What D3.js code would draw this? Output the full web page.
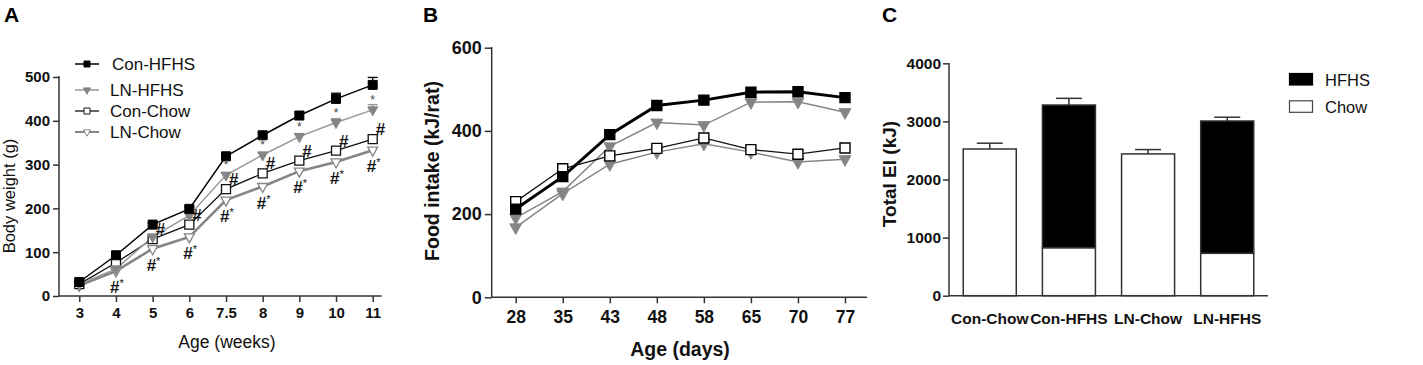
<!DOCTYPE html>
<html><head><meta charset="utf-8">
<script src="https://cdn.jsdelivr.net/npm/d3@7"></script>
<style>
body{margin:0;background:#fff}
svg{display:block;font-family:"Liberation Sans",Arial,sans-serif}
</style>
</head><body>
<svg id="chart" width="1423" height="365"></svg>
<script>
// ---------- Panel A data ----------
const weeks = ["3","4","5","6","7.5","8","9","10","11"];
const conHFHS = [32,93,163,199,319,367,412,450,482];
const conHFHSErr = [3,4,4,5,6,7,9,13,17];
const lnHFHS = [27,62,135,184,276,322,364,396,425];
const lnHFHSErr = [2,3,4,4,5,6,7,9,12];
const conChow = [27,76,130,163,244,280,309,332,358];
const lnChow = [24,57,108,135,219,250,285,306,333];
const hashStarWeeks = ["4","5","6","7.5","8","9","10","11"];
const hashWeeks = ["5","6","7.5","8","9","10","11"];
const starWeeks = ["7.5","8","9","10","11"];
const weightTicks = [0,100,200,300,400,500];
const seriesNamesA = ["Con-HFHS","LN-HFHS","Con-Chow","LN-Chow"];

// ---------- Panel B data ----------
const days = ["28","35","43","48","58","65","70","77"];
const fiConHFHS = [212,290,391,461,474,493,494,480];
const fiLnHFHS = [191,254,363,420,414,469,470,445];
const fiConChow = [230,309,340,358,383,355,344,359];
const fiLnChow = [168,249,320,349,369,349,325,332];
const intakeTicks = [0,200,400,600];

// ---------- Panel C data ----------
const groups = ["Con-Chow","Con-HFHS","LN-Chow","LN-HFHS"];
const eiChow = [2525,826,2440,730];
const eiHFHS = [0,2456,0,2277];
const eiErr = [100,115,75,65];
const eiTicks = [0,1000,2000,3000,4000];
const legendC = ["HFHS","Chow"];

const svg = d3.select("#chart");
const GRAY = "#858585", AX = "#333";

function triDown(w){ const h=w*0.9; return `M${-w/2},${-h/3}L${w/2},${-h/3}L0,${2*h/3}Z`; }
function square(w){ return `M${-w/2},${-w/2}h${w}v${w}h${-w}Z`; }

function styleAxis(g, fs, bold){
  g.selectAll(".domain").remove();
  g.selectAll(".tick line").attr("stroke",AX).attr("stroke-width",1.5);
  g.selectAll(".tick text").attr("fill","#111").attr("font-size",fs)
    .attr("font-weight",bold?"bold":"normal").attr("font-family","'Liberation Sans',Arial,sans-serif");
}

// ================= Panel A =================
{
  const x = d3.scalePoint().domain(weeks).range([79.3,372.7]);
  const y = d3.scaleLinear().domain([0,500]).range([296,77]);
  const g = svg.append("g");
  g.append("text").attr("x",4).attr("y",22).attr("font-size",21).attr("font-weight","bold").text("A");

  const gx = g.append("g").attr("transform","translate(0,296)").call(d3.axisBottom(x).tickSize(6).tickPadding(5));
  styleAxis(gx,15,true);
  const gy = g.append("g").attr("transform","translate(59,0)").call(d3.axisLeft(y).tickValues(weightTicks).tickFormat(d3.format("d")).tickSize(6).tickPadding(3));
  styleAxis(gy,15,true);
  g.append("line").attr("x1",59).attr("x2",381.7).attr("y1",296).attr("y2",296).attr("stroke",AX).attr("stroke-width",1.5);
  g.append("line").attr("x1",59).attr("x2",59).attr("y1",296).attr("y2",76).attr("stroke",AX).attr("stroke-width",1.5);

  g.append("text").attr("x",227).attr("y",348).attr("text-anchor","middle").attr("font-size",17.5).attr("fill","#111").text("Age (weeks)");
  g.append("text").attr("transform","translate(15,196) rotate(-90)").attr("text-anchor","middle").attr("font-size",16.5).attr("fill","#111").text("Body weight  (g)");

  const series = [
    {name:seriesNamesA[0], v:conHFHS, err:conHFHSErr, color:"#000", lw:1.5, mk:"sq", fill:"#000", ms:9},
    {name:seriesNamesA[1], v:lnHFHS, err:lnHFHSErr, color:"#999", lw:1.5, mk:"tri", fill:GRAY, ms:10},
    {name:seriesNamesA[2], v:conChow, err:null, color:"#111", lw:1.3, mk:"sq", fill:"#fff", ms:9},
    {name:seriesNamesA[3], v:lnChow, err:null, color:GRAY, lw:2.6, mk:"tri", fill:"#fff", ms:10}
  ];
  const line = d3.line().x((d,i)=>x(weeks[i])).y(d=>y(d));
  [3,2,1,0].forEach(k=>{
    const s=series[k];
    g.append("path").attr("d",line(s.v)).attr("fill","none").attr("stroke",s.color).attr("stroke-width",s.lw);
  });
  [3,2,1,0].forEach(k=>{
    const s=series[k];
    if(s.err){
      s.v.forEach((v,i)=>{
        const cx=x(weeks[i]);
        g.append("line").attr("x1",cx).attr("x2",cx).attr("y1",y(v)).attr("y2",y(v+s.err[i])).attr("stroke",s.color).attr("stroke-width",1.3);
        g.append("line").attr("x1",cx-5).attr("x2",cx+5).attr("y1",y(v+s.err[i])).attr("y2",y(v+s.err[i])).attr("stroke",s.color).attr("stroke-width",1.3);
      });
    }
    s.v.forEach((v,i)=>{
      g.append("path").attr("transform",`translate(${x(weeks[i])},${y(v)})`)
        .attr("d", s.mk==="sq"?square(s.ms):triDown(s.ms))
        .attr("fill",s.fill).attr("stroke",s.mk==="sq"?s.color:GRAY).attr("stroke-width",s.fill==="#fff"?1.3:1);
    });
  });

  // annotations
  hashStarWeeks.forEach(w=>{
    const i=weeks.indexOf(w);
    const t=g.append("text").attr("x",x(w)-6).attr("y",y(lnChow[i])+22).attr("font-size",17).attr("font-weight","bold").attr("fill","#111");
    t.append("tspan").text("#");
    t.append("tspan").attr("font-size",11).attr("font-weight","normal").attr("dy",-6).text("*");
  });
  hashWeeks.forEach(w=>{
    const i=weeks.indexOf(w);
    g.append("text").attr("x",x(w)+3).attr("y",y(conChow[i])-4).attr("font-size",17).attr("font-weight","bold").attr("fill","#111").text("#");
  });
  starWeeks.forEach(w=>{
    const i=weeks.indexOf(w);
    g.append("text").attr("x",x(w)).attr("y",y(lnHFHS[i])-6).attr("text-anchor","middle").attr("font-size",12).attr("fill","#444").text("*");
  });

  // legend
  const rowsY=[64,90,111,132];
  series.forEach((s,k)=>{
    const ly=rowsY[k];
    g.append("line").attr("x1",75).attr("x2",99).attr("y1",ly).attr("y2",ly).attr("stroke",s.color).attr("stroke-width",Math.min(s.lw,2));
    g.append("path").attr("transform",`translate(87,${ly})`).attr("d",s.mk==="sq"?square(6):triDown(7))
      .attr("fill",s.fill).attr("stroke",s.mk==="sq"?s.color:GRAY).attr("stroke-width",1);
    g.append("text").attr("x",k===0?112:110).attr("y",ly+6).attr("font-size",17).attr("fill","#111").text(s.name);
  });
}

// ================= Panel B =================
{
  const x = d3.scalePoint().domain(days).range([515.7,845]);
  const y = d3.scaleLinear().domain([0,600]).range([297.3,47.7]);
  const g = svg.append("g");
  g.append("text").attr("x",423).attr("y",22).attr("font-size",21).attr("font-weight","bold").text("B");
  const gx = g.append("g").attr("transform","translate(0,297.3)").call(d3.axisBottom(x).tickSize(6).tickPadding(7));
  styleAxis(gx,17.5,true);
  const gy = g.append("g").attr("transform","translate(491.7,0)").call(d3.axisLeft(y).tickValues(intakeTicks).tickFormat(d3.format("d")).tickSize(7).tickPadding(3));
  styleAxis(gy,18,true);
  g.append("line").attr("x1",491.7).attr("x2",867).attr("y1",297.3).attr("y2",297.3).attr("stroke",AX).attr("stroke-width",1.5);
  g.append("line").attr("x1",491.7).attr("x2",491.7).attr("y1",297.3).attr("y2",47).attr("stroke",AX).attr("stroke-width",1.5);

  g.append("text").attr("x",680).attr("y",356).attr("text-anchor","middle").attr("font-size",19.5).attr("font-weight","bold").attr("fill","#111").text("Age  (days)");
  g.append("text").attr("transform","translate(439,171) rotate(-90)").attr("text-anchor","middle").attr("font-size",19.5).attr("font-weight","bold").attr("fill","#111").text("Food intake  (kJ/rat)");

  const series = [
    {v:fiLnChow, color:GRAY, lw:1.5, mk:"tri", fill:GRAY},
    {v:fiLnHFHS, color:GRAY, lw:1.5, mk:"tri", fill:GRAY},
    {v:fiConChow, color:"#111", lw:1.3, mk:"sq", fill:"#fff"},
    {v:fiConHFHS, color:"#000", lw:3, mk:"sq", fill:"#000"}
  ];
  const line = d3.line().x((d,i)=>x(days[i])).y(d=>y(d));
  series.forEach(s=>{
    g.append("path").attr("d",line(s.v)).attr("fill","none").attr("stroke",s.color).attr("stroke-width",s.lw);
  });
  series.forEach(s=>{
    s.v.forEach((v,i)=>{
      g.append("path").attr("transform",`translate(${x(days[i])},${y(v)})`)
        .attr("d", s.mk==="sq"?square(10):triDown(12))
        .attr("fill",s.fill).attr("stroke",s.mk==="sq"?"#000":GRAY).attr("stroke-width",s.mk==="sq"?1.4:0.8);
    });
  });
}

// ================= Panel C =================
{
  const x = d3.scaleBand().domain(groups).range([949,1268]).paddingInner(0.33).paddingOuter(0.18);
  const y = d3.scaleLinear().domain([0,4000]).range([295.7,63.3]);
  const g = svg.append("g");
  g.append("text").attr("x",882).attr("y",22).attr("font-size",21).attr("font-weight","bold").text("C");

  const gy = g.append("g").attr("transform","translate(949,0)").call(d3.axisLeft(y).tickValues(eiTicks).tickFormat(d3.format("d")).tickSize(6).tickPadding(2));
  styleAxis(gy,15.5,true);
  const gx = g.append("g").attr("transform","translate(0,295.7)").call(d3.axisBottom(x).tickSize(0).tickPadding(17));
  styleAxis(gx,15.5,true);

  g.append("text").attr("transform","translate(896,174) rotate(-90)").attr("text-anchor","middle").attr("font-size",19).attr("font-weight","bold").attr("fill","#111").text("Total  EI (kJ)");

  groups.forEach((grp,i)=>{
    const bx=x(grp), bw=x.bandwidth();
    g.append("rect").attr("x",bx).attr("width",bw).attr("y",y(eiChow[i])).attr("height",y(0)-y(eiChow[i]))
      .attr("fill","#fff").attr("stroke","#333").attr("stroke-width",1.5);
    if(eiHFHS[i]>0){
      g.append("rect").attr("x",bx).attr("width",bw).attr("y",y(eiChow[i]+eiHFHS[i])).attr("height",y(eiChow[i])-y(eiChow[i]+eiHFHS[i]))
        .attr("fill","#000").attr("stroke","#333").attr("stroke-width",1.5);
    }
    const tot=eiChow[i]+eiHFHS[i], cx=bx+bw/2;
    g.append("line").attr("x1",cx).attr("x2",cx).attr("y1",y(tot)).attr("y2",y(tot+eiErr[i])).attr("stroke","#333").attr("stroke-width",1.5);
    g.append("line").attr("x1",cx-13).attr("x2",cx+13).attr("y1",y(tot+eiErr[i])).attr("y2",y(tot+eiErr[i])).attr("stroke","#333").attr("stroke-width",1.5);
  });
  g.append("line").attr("x1",949).attr("x2",1268).attr("y1",295.7).attr("y2",295.7).attr("stroke",AX).attr("stroke-width",1.5);
  g.append("line").attr("x1",949).attr("x2",949).attr("y1",295.7).attr("y2",63).attr("stroke",AX).attr("stroke-width",1.5);

  const lgY=[73.5,100.8];
  legendC.forEach((name,k)=>{
    g.append("rect").attr("x",1289.5).attr("y",lgY[k]).attr("width",23).attr("height",11.5)
      .attr("fill",k===0?"#000":"#fff").attr("stroke",k===0?"#000":"#444").attr("stroke-width",1.2);
    g.append("text").attr("x",1325).attr("y",lgY[k]+12).attr("font-size",16.5).attr("fill","#111").text(name);
  });
}
</script>
</body></html>
